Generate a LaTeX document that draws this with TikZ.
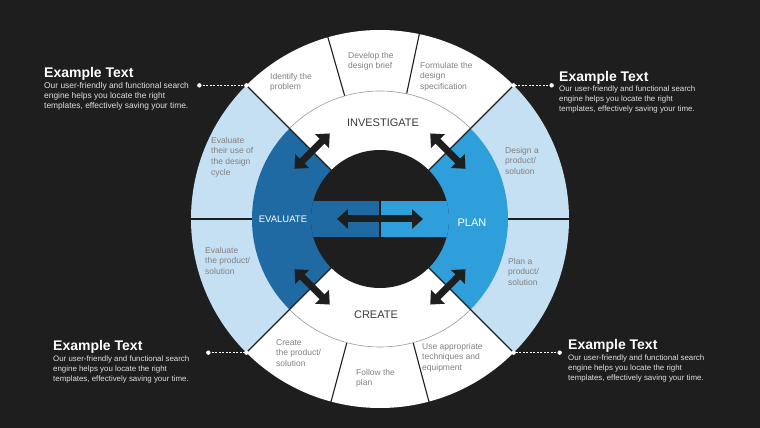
\documentclass[tikz,border=0pt]{standalone}
\usepackage{fontspec}
\setmainfont{Liberation Sans}
\setsansfont{Liberation Sans}
\usetikzlibrary{arrows.meta, calc}
\definecolor{sbg}{HTML}{1E1E1E}
\definecolor{spale}{HTML}{C6E0F3}
\definecolor{sdeep}{HTML}{1F6AA2}
\definecolor{ssky}{HTML}{2F9FDB}
\definecolor{sgrey}{HTML}{808080}
\definecolor{sink}{HTML}{3A3A3A}
\tikzset{
  >=Latex,
  font=\sffamily,
  steptxt/.style={
    anchor=north west, inner sep=0pt, align=left, text=sgrey,
    font=\fontsize{8.5}{10.6}\selectfont
  },
  phase/.style={inner sep=0pt, text=#1, font=\fontsize{11}{13}\selectfont},
  phase/.default=sink,
  divider/.style={draw=sbg, line width=1.1pt},
  swap/.style={
    draw=sbg, line width=7pt,
    {Triangle[width=19pt,length=11pt]}-{Triangle[width=19pt,length=11pt]}
  },
  headline/.style={
    anchor=north west, inner sep=0pt, text=white,
    font=\fontsize{14}{16}\selectfont\bfseries
  },
  blurb/.style={
    anchor=north west, inner sep=0pt, align=left, text=white!88!black,
    font=\fontsize{7.9}{10}\selectfont
  },
  leader/.style={draw=white, line width=0.8pt, dash pattern=on 2pt off 1.5pt},
  dotend/.style={fill=white, draw=none}
}

\begin{document}
\begin{tikzpicture}[x=1pt, y=1pt]
  \fill[sbg] (-380,-209) rectangle (380,219);
  \useasboundingbox (-380,-209) rectangle (380,219);

  % outer ring
  \fill[white] (0,0) -- (45:189) arc (45:135:189) -- cycle;
  \fill[spale] (0,0) -- (135:189) arc (135:225:189) -- cycle;
  \fill[white] (0,0) -- (225:189) arc (225:315:189) -- cycle;
  \fill[spale] (0,0) -- (-45:189) arc (-45:45:189) -- cycle;
  \foreach \a in {0,78,106,180,255,285}
    \draw[divider] (\a:128) -- (\a:190);

  % middle ring
  \fill[white] (0,0) -- (45:128) arc (45:135:128) -- cycle;
  \fill[sdeep] (0,0) -- (135:128) arc (135:225:128) -- cycle;
  \fill[white] (0,0) -- (225:128) arc (225:315:128) -- cycle;
  \fill[ssky] (0,0) -- (-45:128) arc (-45:45:128) -- cycle;
  \draw[sgrey!80, line width=0.6pt] (45:128) arc (45:135:128);
  \draw[sgrey!80, line width=0.6pt] (225:128) arc (225:315:128);
  \foreach \a in {45,135,225,315}
    \draw[divider] (\a:69) -- (\a:190);

  % hub
  \fill[sbg] (0,0) circle (69);
  \begin{scope}
    \clip (0,0) circle (69);
    \fill[sdeep] (-70,-18) rectangle (0,18);
    \fill[ssky] (0,-18) rectangle (70,18);
  \end{scope}
  \draw[divider] (0,-18) -- (0,18);

  % arrows
  \foreach \a in {45,135,225,315} {
    \coordinate (sw-\a-a) at ($(\a:96)+(\a+90:25)$);
    \coordinate (sw-\a-b) at ($(\a:96)+(\a-90:25)$);
    \draw[swap] (sw-\a-a) -- (sw-\a-b);
  }
  \coordinate (hub-w) at (-43,0);
  \coordinate (hub-e) at (43,0);
  \draw[swap] (hub-w) -- (hub-e);

  % phases
  \node[phase] (investigate) at (3,96) {INVESTIGATE};
  \node[phase] (create) at (-4,-96) {CREATE};
  \node[phase=white, font=\fontsize{9.5}{11}\selectfont] (evaluate) at (-97,0) {EVALUATE};
  \node[phase=white] (plan) at (92,-4) {PLAN};

  % steps
  \node[steptxt] (identify) at (-110,146) {Identify the\\problem};
  \node[steptxt] (brief) at (-32,167) {Develop the\\design brief};
  \node[steptxt] (spec) at (40,157) {Formulate the\\design\\specification};
  \node[steptxt] (design) at (125,72) {Design a\\product/\\solution};
  \node[steptxt] (planit) at (128,-39) {Plan a\\product/\\solution};
  \node[steptxt] (tools) at (42,-124) {Use appropriate\\techniques and\\equipment};
  \node[steptxt] (follow) at (-24,-150) {Follow the\\plan};
  \node[steptxt] (build) at (-104,-120) {Create\\the product/\\solution};
  \node[steptxt] (judge) at (-175,-28) {Evaluate\\the product/\\solution};
  \node[steptxt] (review) at (-169,82) {Evaluate\\their use of\\the design\\cycle};

  % side notes
  \node[headline] (tl-head) at (-336,152) {Example Text};
  \node[blurb, font=\fontsize{8.4}{10}\selectfont] (tl-body) at (-336,137)
    {Our user-friendly and functional search\\engine helps you locate the right\\templates, effectively saving your time.};
  \node[headline] (tr-head) at (179,148) {Example Text};
  \node[blurb] (tr-body) at (179,133)
    {Our user-friendly and functional search\\engine helps you locate the right\\templates, effectively saving your time.};
  \node[headline] (bl-head) at (-327,-121) {Example Text};
  \node[blurb] (bl-body) at (-327,-137)
    {Our user-friendly and functional search\\engine helps you locate the right\\templates, effectively saving your time.};
  \node[headline] (br-head) at (188,-120) {Example Text};
  \node[blurb] (br-body) at (188,-136)
    {Our user-friendly and functional search\\engine helps you locate the right\\templates, effectively saving your time.};

  % leaders
  \coordinate (tl-end) at (135:189);
  \coordinate (tl-dot) at ($(tl-end)+(-47,0)$);
  \coordinate (tr-end) at (45:189);
  \coordinate (tr-dot) at ($(tr-end)+(38,0)$);
  \coordinate (bl-end) at (225:189);
  \coordinate (bl-dot) at ($(bl-end)+(-38,0)$);
  \coordinate (br-end) at (-45:189);
  \coordinate (br-dot) at ($(br-end)+(46,0)$);
  \foreach \c in {tl,tr,bl,br} {
    \draw[leader] (\c-dot) -- (\c-end);
    \fill[dotend] (\c-dot) circle (2.2);
    \fill[dotend] (\c-end) circle (2.2);
  }
\end{tikzpicture}
\end{document}
